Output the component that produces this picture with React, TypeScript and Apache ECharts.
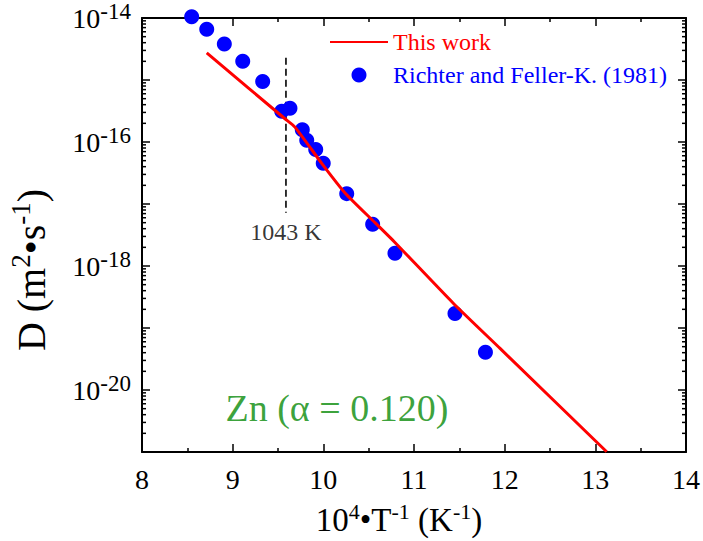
import React, { useEffect, useRef } from "react";
import * as echarts from "echarts";

const FONT = "Liberation Serif, Times New Roman, serif";

// Richter and Feller-K. (1981) data: 10^4/T and D (m^2/s)
const expX = [8.548, 8.714, 8.908, 9.111, 9.331, 9.541, 9.632, 9.768, 9.817, 9.916, 9.999, 10.258, 10.544, 10.79, 11.452, 11.788];
const expD = [1.05e-14, 6.61e-15, 3.81e-15, 2.01e-15, 9.44e-16, 3.13e-16, 3.5e-16, 1.58e-16, 1.07e-16, 7.57e-17, 4.53e-17, 1.47e-17, 4.7e-18, 1.6e-18, 1.71e-19, 4.07e-20];

// This work (model curve)
const modelX = [8.714, 9.577, 9.687, 9.982, 10.239, 10.57, 10.79, 11.433, 11.949, 13.125];
const modelD = [2.74e-15, 2.37e-16, 1.74e-16, 4.53e-17, 1.51e-17, 5.0e-18, 2.4e-18, 2.51e-19, 4.68e-20, 1.01e-21];

// Annotation: transition temperature 1043 K
const transX = [10000 / 1043, 10000 / 1043];
const transD = [2.275e-15, 7.23e-18];

const xMin = 8;
const xMax = 14;
const yMinExp = -21;
const yMaxExp = -14;
const yLabelExps = [-14, -16, -18, -20];

const lg = (v: number) => Math.log10(v);

const minorTicks: number[] = [];
for (let e = yMinExp; e < yMaxExp; e++) {
  for (let m = 2; m <= 9; m++) minorTicks.push(m * Math.pow(10, e));
}

export default function App() {
  const ref = useRef<HTMLDivElement>(null);
  useEffect(() => {
    const chart = echarts.init(ref.current!, null, { renderer: "svg" });
    const axisLine = { show: true, lineStyle: { color: "#000", width: 2 } };
    const tick = { show: true, inside: true, length: 8, lineStyle: { color: "#000", width: 1.5 } };
    const xBase = {
      type: "value",
      min: xMin,
      max: xMax,
      interval: 1,
      axisLine,
      axisTick: tick,
      minorTick: { show: true, splitNumber: 2, length: 4, lineStyle: { color: "#000", width: 1.5 } },
      splitLine: { show: false },
      minorSplitLine: { show: false },
    };
    const yBase = {
      type: "value",
      min: yMinExp,
      max: yMaxExp,
      interval: 1,
      axisLine,
      axisTick: tick,
      splitLine: { show: false },
    };
    const option: any = {
      animation: false,
      grid: { left: 142, right: 17, top: 13, bottom: 89 },
      xAxis: [
        {
          ...xBase,
          position: "bottom",
          axisLabel: { fontSize: 28, fontFamily: FONT, color: "#000", margin: 13 },
        },
        { ...xBase, position: "top", axisLabel: { show: false } },
      ],
      yAxis: [
        {
          ...yBase,
          position: "left",
          axisLabel: {
            margin: 11,
            formatter: (v: number) => {
              const e = Math.round(v);
              return yLabelExps.includes(e) ? `{b|10}{s|${e}}` : "";
            },
            rich: {
              b: { fontSize: 28, fontFamily: FONT, color: "#000", lineHeight: 36 },
              s: { fontSize: 23, fontFamily: FONT, color: "#000", verticalAlign: "top" },
            },
          },
        },
        { ...yBase, position: "right", axisLabel: { show: false } },
      ],
      legend: {
        data: [
          { name: "This work", textStyle: { color: "#ff0000" }, itemStyle: { opacity: 0 } },
          { name: "Richter and Feller-K. (1981)", textStyle: { color: "#0000ff" } },
        ],
        orient: "vertical",
        left: 324,
        top: 25,
        itemWidth: 58,
        itemHeight: 15,
        itemGap: 9,
        textStyle: { fontFamily: FONT, fontSize: 24 },
      },
      series: [
        {
          type: "custom",
          silent: true,
          xAxisIndex: 0,
          yAxisIndex: 0,
          data: minorTicks.map((v) => [xMin, lg(v)]),
          encode: { x: 0, y: 1 },
          renderItem: (params: any, api: any) => {
            const v = api.value(1);
            const p1 = api.coord([xMin, v]);
            const p2 = api.coord([xMax, v]);
            return {
              type: "group",
              children: [
                { type: "line", shape: { x1: p1[0], y1: p1[1], x2: p1[0] + 4, y2: p1[1] }, style: { stroke: "#000", lineWidth: 1.5 } },
                { type: "line", shape: { x1: p2[0] - 4, y1: p2[1], x2: p2[0], y2: p2[1] }, style: { stroke: "#000", lineWidth: 1.5 } },
              ],
            };
          },
        },
        {
          name: "Richter and Feller-K. (1981)",
          type: "scatter",
          data: expX.map((x, i) => [x, lg(expD[i])]),
          symbol: "circle",
          symbolSize: 15,
          itemStyle: { color: "#0000ff", opacity: 1 },
          clip: false,
          z: 3,
        },
        {
          name: "This work",
          type: "line",
          data: modelX.map((x, i) => [x, lg(modelD[i])]),
          symbol: "none",
          smooth: 0.2,
          lineStyle: { color: "#ff0000", width: 3 },
          itemStyle: { color: "#ff0000" },
          z: 4,
        },
        {
          name: "transition",
          type: "line",
          data: transX.map((x, i) => [x, lg(transD[i])]),
          symbol: "none",
          lineStyle: { color: "#000", width: 1.6, type: [7, 4] },
          z: 2,
        },
        {
          name: "labels",
          type: "scatter",
          symbolSize: 1,
          itemStyle: { color: "rgba(0,0,0,0)" },
          silent: true,
          data: [
            { value: [10000 / 1043, lg(3.5e-18)], label: { formatter: "1043 K", fontSize: 24, color: "#000", fontFamily: FONT } },
            { value: [10.15, lg(5.2e-21)], label: { formatter: "Zn (α = 0.120)", fontSize: 38, color: "#078a07", fontFamily: FONT } },
          ],
          label: { show: true, position: "inside", fontFamily: FONT },
          z: 5,
        },
      ],
      graphic: [
        {
          type: "text",
          x: 399,
          y: 520,
          style: {
            text: "{b|10}{s|4}{b|•T}{s|-1}{b| (K}{s|-1}{b|)}",
            align: "center",
            verticalAlign: "middle",
            fill: "#000",
            rich: {
              b: { fontSize: 33, fontFamily: FONT, fill: "#000", lineHeight: 40 },
              s: { fontSize: 22, fontFamily: FONT, fill: "#000", verticalAlign: "top" },
            },
          },
        },
        {
          type: "text",
          x: 31,
          y: 270,
          rotation: Math.PI / 2,
          style: {
            text: "{b|D (m}{s|2}{b|•s}{s|-1}{b|)}",
            align: "center",
            verticalAlign: "middle",
            fill: "#000",
            rich: {
              b: { fontSize: 40, fontFamily: FONT, fill: "#000", lineHeight: 48 },
              s: { fontSize: 27, fontFamily: FONT, fill: "#000", verticalAlign: "top" },
            },
          },
        },
      ],
    };
    chart.setOption(option);
    return () => chart.dispose();
  }, []);
  return <div ref={ref} style={{ position: "absolute", left: 0, top: 0, width: 703, height: 541 }} />;
}
